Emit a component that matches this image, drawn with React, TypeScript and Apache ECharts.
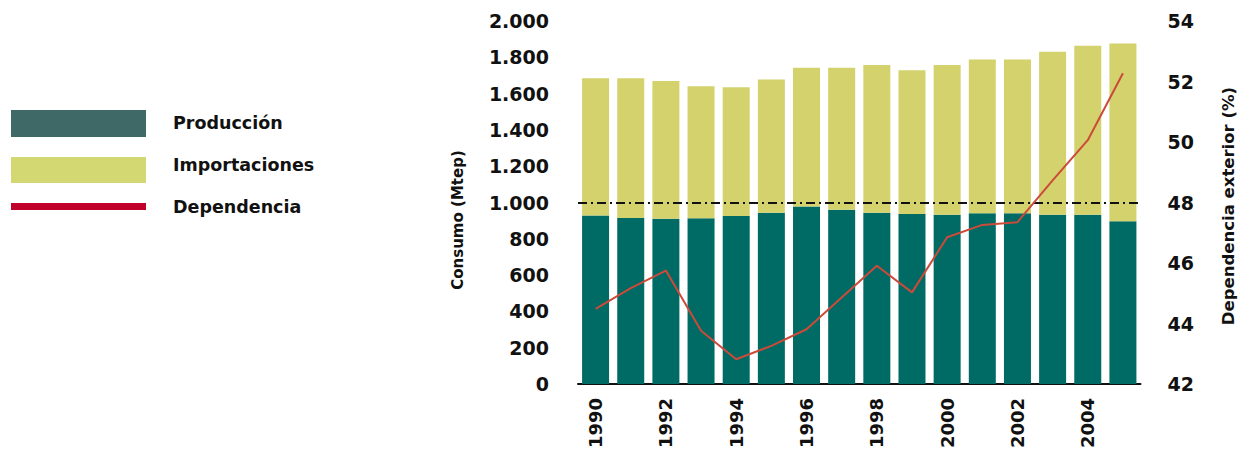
import React, { useEffect, useRef } from "react";
import * as echarts from "echarts";

const years = ["1990","1991","1992","1993","1994","1995","1996","1997","1998","1999","2000","2001","2002","2003","2004","2005"];
const produccion = [928, 915, 910, 913, 925, 943, 978, 960, 943, 937, 932, 941, 941, 932, 932, 897];
const consumoTotal = [1685, 1685, 1670, 1641, 1635, 1678, 1742, 1742, 1757, 1729, 1757, 1788, 1788, 1830, 1863, 1876];
const importaciones = consumoTotal.map((t, i) => t - produccion[i]);
const dependencia = [44.48, 45.17, 45.75, 43.76, 42.82, 43.26, 43.81, 44.86, 45.91, 45.03, 46.85, 47.26, 47.35, 48.73, 50.06, 52.27];

const FONT = "DejaVu Sans";

export default function App() {
  const ref = useRef<HTMLDivElement>(null);
  useEffect(() => {
    if (!ref.current) return;
    const chart = echarts.init(ref.current, null, { renderer: "svg" });
    const labelStyle = { fontFamily: FONT, fontWeight: "bold" as const, fontSize: 19, color: "#111" };
    chart.setOption({
      animation: false,
      backgroundColor: "#fff",
      grid: { left: 578, right: 100.5, top: 21, bottom: 66, containLabel: false, outerBoundsMode: "none" },
      xAxis: {
        type: "category",
        data: years,
        axisLine: { show: true, lineStyle: { color: "#111", width: 2 } },
        axisTick: { show: false },
        axisLabel: {
          ...labelStyle,
          fontSize: 18,
          rotate: 90,
          margin: 14,
          interval: 1,
        },
      },
      yAxis: [
        {
          type: "value",
          min: 0,
          max: 2000,
          interval: 200,
          axisLine: { show: false },
          axisTick: { show: false },
          splitLine: { show: false },
          axisLabel: {
            ...labelStyle,
            margin: 29,
            formatter: (v: number) => v.toLocaleString("de-DE"),
          },
        },
        {
          type: "value",
          min: 42,
          max: 54,
          interval: 2,
          axisLine: { show: false },
          axisTick: { show: false },
          splitLine: { show: false },
          axisLabel: { ...labelStyle, margin: 27 },
        },
      ],
      series: [
        {
          name: "Producción",
          type: "bar",
          stack: "c",
          data: produccion,
          barWidth: 27,
          itemStyle: { color: "#006b65" },
          markLine: {
            silent: true,
            symbol: "none",
            label: { show: false },
            lineStyle: { color: "#111", width: 2, type: [9, 4, 2, 4] },
            data: [{ yAxis: 1000 }],
          },
        },
        {
          name: "Importaciones",
          type: "bar",
          stack: "c",
          data: importaciones,
          barWidth: 27,
          itemStyle: { color: "#d3d26d" },
        },
        {
          name: "Dependencia",
          type: "line",
          yAxisIndex: 1,
          data: dependencia,
          symbol: "none",
          lineStyle: { color: "#cc4a3a", width: 2 },
          z: 5,
        },
      ],
      graphic: [
        { type: "rect", shape: { x: 11, y: 110, width: 135, height: 27 }, style: { fill: "#3e6967" } },
        { type: "rect", shape: { x: 11, y: 157, width: 135, height: 26 }, style: { fill: "#d4d872" } },
        { type: "rect", shape: { x: 11, y: 203, width: 135, height: 7 }, style: { fill: "#c0002b" } },
        { type: "text", x: 173, y: 123, style: { text: "Producción", font: `bold 17.5px "${FONT}"`, fill: "#111", verticalAlign: "middle" } },
        { type: "text", x: 173, y: 165, style: { text: "Importaciones", font: `bold 17.5px "${FONT}"`, fill: "#111", verticalAlign: "middle" } },
        { type: "text", x: 173, y: 207, style: { text: "Dependencia", font: `bold 17.5px "${FONT}"`, fill: "#111", verticalAlign: "middle" } },
        { type: "text", x: 458, y: 220, rotation: Math.PI / 2, style: { text: "Consumo (Mtep)", font: `bold 15px "${FONT}"`, fill: "#111", align: "center", verticalAlign: "middle" } },
        { type: "text", x: 1228, y: 206, rotation: Math.PI / 2, style: { text: "Dependencia exterior (%)", font: `bold 16.5px "${FONT}"`, fill: "#111", align: "center", verticalAlign: "middle" } },
      ],
    });
    return () => chart.dispose();
  }, []);
  return <div ref={ref} style={{ position: "fixed", left: 0, top: 0, width: 1241, height: 450 }} />;
}
